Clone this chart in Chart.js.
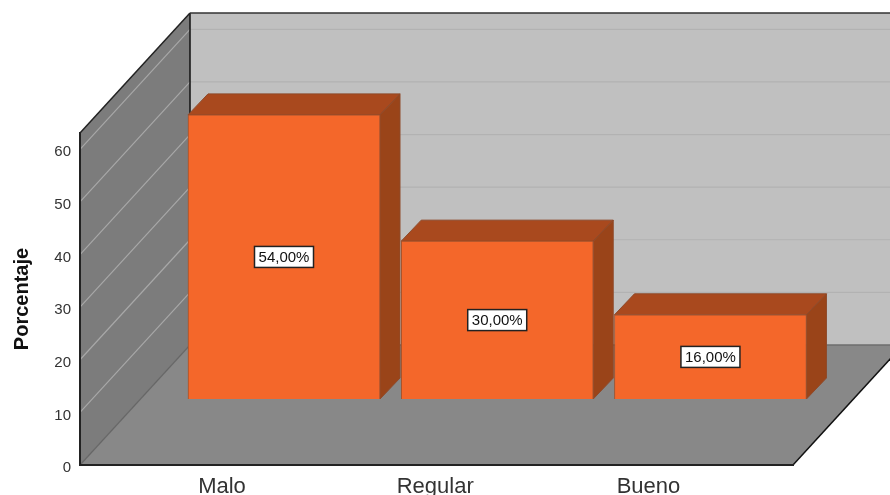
<!DOCTYPE html>
<html>
<head>
<meta charset="utf-8">
<title>Porcentaje</title>
<style>
  html, body { margin: 0; padding: 0; background: #fff; }
  canvas { display: block; }
</style>
<script src="https://cdn.jsdelivr.net/npm/chart.js@4"></script>
</head>
<body>
<canvas id="graphique" width="890" height="495"></canvas>
<script>
const categorias = ["Malo", "Regular", "Bueno"];
const porcentajes = [54, 30, 16];
const etiquetas = ["54,00%", "30,00%", "16,00%"];
const ticksY = [0, 10, 20, 30, 40, 50, 60];

// depth of the box (walls) and of the bars, in pixels
const fondo = { x: 110, y: -120 };
const barra = { x: 20, y: -21 };
// bars stand on the floor, shifted from the front edge
const desplazamiento = { x: 62, y: -66 };

function poligono(ctx, puntos, relleno, borde, grosor) {
  ctx.beginPath();
  puntos.forEach((p, i) => i ? ctx.lineTo(p[0], p[1]) : ctx.moveTo(p[0], p[1]));
  ctx.closePath();
  if (relleno) { ctx.fillStyle = relleno; ctx.fill(); }
  if (borde) { ctx.strokeStyle = borde; ctx.lineWidth = grosor || 1; ctx.stroke(); }
}

function linea(ctx, x1, y1, x2, y2, color, grosor) {
  ctx.beginPath();
  ctx.moveTo(x1, y1);
  ctx.lineTo(x2, y2);
  ctx.strokeStyle = color;
  ctx.lineWidth = grosor;
  ctx.stroke();
}

const caja3d = {
  id: "caja3d",
  beforeDraw(chart) {
    const ctx = chart.ctx;
    const { left, right, top, bottom } = chart.chartArea;
    const dx = fondo.x, dy = fondo.y;
    ctx.save();
    // back wall, left wall, floor
    poligono(ctx, [[left + dx, top + dy], [right + dx, top + dy], [right + dx, bottom + dy], [left + dx, bottom + dy]], "#c0c0c0");
    poligono(ctx, [[left, top], [left + dx, top + dy], [left + dx, bottom + dy], [left, bottom]], "#7c7c7c");
    poligono(ctx, [[left, bottom], [right, bottom], [right + dx, bottom + dy], [left + dx, bottom + dy]], "#888888");

    ticksY.forEach(t => {
      if (t === 0) return;
      const y = chart.scales.y.getPixelForValue(t);
      linea(ctx, left, y, left + dx, y + dy, "#a8a8a8", 1.2);
      linea(ctx, left + dx, y + dy, right + dx, y + dy, "#b2b2b2", 1.2);
    });

    linea(ctx, left, bottom, left + dx, bottom + dy, "#666666", 1.2);
    linea(ctx, left + dx, bottom + dy, right + dx, bottom + dy, "#6e6e6e", 1.5);
    linea(ctx, left + dx, top + dy, left + dx, bottom + dy, "#111111", 1.5);
    linea(ctx, left, top, left + dx, top + dy, "#222222", 1.5);
    linea(ctx, left + dx, top + dy, right + dx, top + dy, "#333333", 1.5);
    linea(ctx, right, bottom, right + dx, bottom + dy, "#111111", 1.5);
    ctx.restore();
  },
  beforeDatasetDraw(chart, args) {
    const ctx = chart.ctx;
    ctx.save();
    ctx.translate(desplazamiento.x, desplazamiento.y);
    args.meta.data.forEach(b => {
      const l = b.x - b.width / 2, r = b.x + b.width / 2;
      poligono(ctx, [[l, b.y], [r, b.y], [r + barra.x, b.y + barra.y], [l + barra.x, b.y + barra.y]], "#a9491e", "#8f4a2a", 1);
      poligono(ctx, [[r, b.y], [r + barra.x, b.y + barra.y], [r + barra.x, b.base + barra.y], [r, b.base]], "#9a4419", "#8f4a2a", 1);
    });
  },
  afterDatasetDraw(chart) {
    chart.ctx.restore();
  },
  afterDatasetsDraw(chart) {
    const ctx = chart.ctx;
    const meta = chart.getDatasetMeta(0);
    ctx.save();
    ctx.font = "15px 'Liberation Sans'";
    ctx.textAlign = "center";
    ctx.textBaseline = "middle";
    meta.data.forEach((b, i) => {
      const cx = b.x + desplazamiento.x;
      const cy = (b.y + b.base) / 2 + desplazamiento.y;
      const w = 59, h = 21;
      ctx.fillStyle = "#ffffff";
      ctx.fillRect(cx - w / 2, cy - h / 2, w, h);
      ctx.strokeStyle = "#222222";
      ctx.lineWidth = 1.5;
      ctx.strokeRect(cx - w / 2, cy - h / 2, w, h);
      ctx.fillStyle = "#111111";
      ctx.fillText(etiquetas[i], cx, cy + 0.5);
    });
    ctx.restore();
  }
};

new Chart(document.getElementById("graphique"), {
  type: "bar",
  plugins: [caja3d],
  data: {
    datasets: [{
      data: porcentajes.map((v, i) => ({ x: i, y: v })),
      backgroundColor: "#f4672a",
      borderColor: "#a0522d",
      borderWidth: 1,
      barThickness: 192,
      clip: false
    }]
  },
  options: {
    responsive: false,
    animation: false,
    devicePixelRatio: 1,
    layout: { padding: { top: 133, right: 97, bottom: 0, left: 0 } },
    plugins: { legend: { display: false }, tooltip: { enabled: false } },
    scales: {
      x: {
        type: "linear",
        offset: false,
        min: -0.666,
        max: 2.678,
        grid: { display: false },
        border: { display: true, color: "#222222", width: 2 },
        afterBuildTicks(scale) { scale.ticks = categorias.map((c, i) => ({ value: i })); },
        afterFit(scale) { scale.height = 30; },
        ticks: {
          autoSkip: false,
          maxRotation: 0,
          padding: 1,
          color: "#333333",
          font: { family: "'Liberation Sans'", size: 22 },
          callback: v => categorias[v]
        }
      },
      y: {
        min: 0,
        max: 63.1,
        grid: { display: false, drawTicks: false },
        border: { display: true, color: "#222222", width: 2 },
        afterBuildTicks(scale) { scale.ticks = ticksY.map(t => ({ value: t })); },
        afterFit(scale) { scale.width = 80; },
        ticks: {
          padding: 9,
          labelOffset: 3,
          color: "#333333",
          font: { family: "'Liberation Sans'", size: 15 }
        },
        title: {
          display: true,
          text: "Porcentaje",
          color: "#111111",
          padding: { top: 10, bottom: 0 },
          font: { family: "'Liberation Sans'", size: 20, weight: "bold" }
        }
      }
    }
  }
});
</script>
</body>
</html>
